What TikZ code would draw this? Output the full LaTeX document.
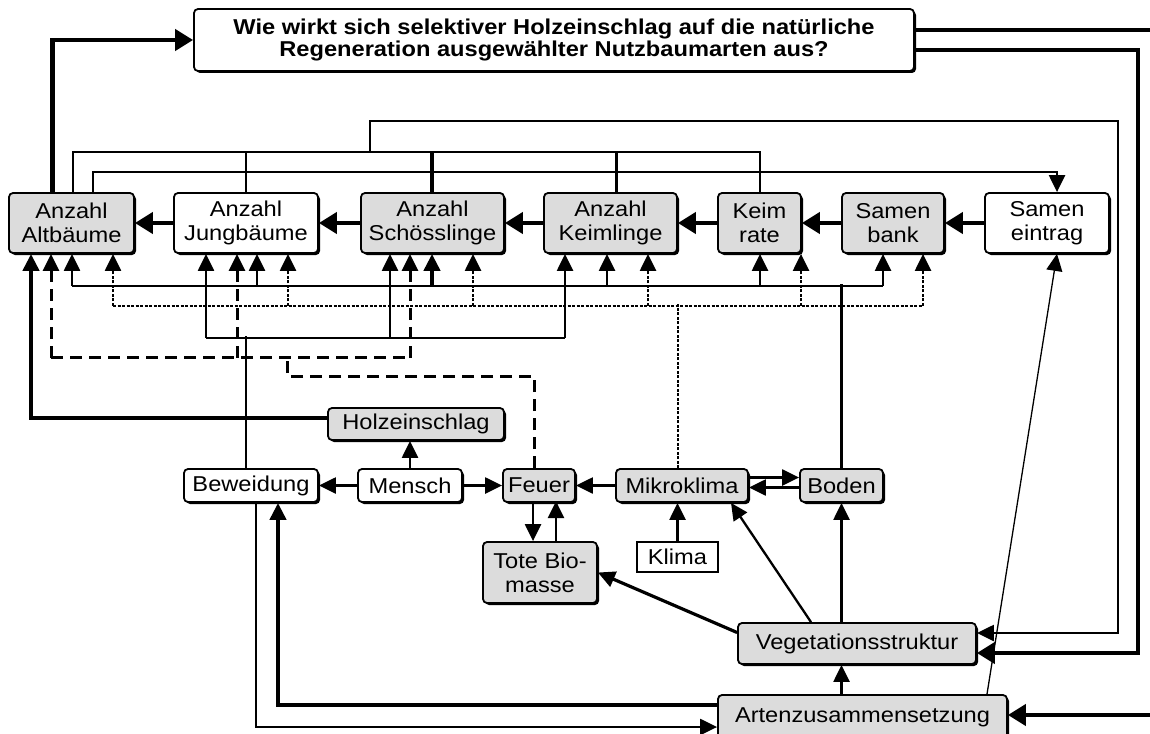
\documentclass[tikz,border=0pt]{standalone}
\usepackage{fontspec}
\setmainfont{Liberation Sans}[FakeStretch=1.1]
\usetikzlibrary{arrows.meta,shadows}
\definecolor{boxgrau}{RGB}{220,220,220}

\tikzset{
	kasten/.style={draw, line width=1.8pt, rounded corners=4pt, fill=boxgrau, align=center, inner sep=0pt,
		font=\fontsize{21.5}{24}\selectfont,
		drop shadow={shadow xshift=2pt, shadow yshift=-2pt, fill=black, opacity=1}},
	weiss/.style={kasten, fill=white},
	reihe/.style={minimum height=60pt},
	mitte/.style={minimum height=33pt},
	klimabox/.style={draw, line width=1.4pt, fill=white, inner sep=0pt, font=\fontsize{21.5}{24}\selectfont},
	ln/.style={line width=2.3pt},
	tk/.style={line width=4.2pt},
	pf/.style={-{Triangle[length=17pt,width=16pt]}},
	pfT/.style={-{Triangle[length=18pt,width=21pt]}},
	gestr/.style={line width=3pt, dash pattern=on 12pt off 7pt},
	punkt/.style={line width=2.3pt, dash pattern=on 3pt off 1.5pt},
}

\begin{document}
\begin{tikzpicture}[x=1pt,y=-1pt]
		%%%%% START %%%%%
		\useasboundingbox (0,0) rectangle (1150,733);
		\clip (0,0) rectangle (1150,733);
		
		\coordinate (randO) at (1150,30);
		\coordinate (rand) at (1150,715);
		\coordinate (rechtsA) at (1118,633);
		\coordinate (rechtsB) at (1138,653);
		
		\node[weiss, minimum width=720pt, minimum height=62pt, font=\bfseries\fontsize{21.5}{22}\selectfont] (frage) at (554,40)
			{Wie wirkt sich selektiver Holzeinschlag auf die natürliche\\Regeneration ausgewählter Nutzbaumarten aus?};
		
		% obere Reihe
		\node[kasten, reihe, minimum width=125pt] (altb) at (71.5,223) {Anzahl\\Altbäume};
		\node[weiss, reihe, minimum width=144pt] (jung) at (246,223) {Anzahl\\Jungbäume};
		\node[kasten, reihe, minimum width=143pt] (schoe) at (432.5,223) {Anzahl\\Schösslinge};
		\node[kasten, reihe, minimum width=133pt] (keiml) at (610.5,223) {Anzahl\\Keimlinge};
		\node[kasten, reihe, minimum width=83pt] (keimr) at (759.5,223) {Keim\\rate};
		\node[kasten, reihe, minimum width=102pt] (sbank) at (893,223) {Samen\\bank};
		\node[weiss, reihe, minimum width=124pt] (seintr) at (1047,223) {Samen\\eintrag};
		
		% Faktoren
		\node[kasten, minimum width=176pt, minimum height=32pt] (holz) at (416,424) {Holzeinschlag};
		\node[weiss, mitte, minimum width=134pt] (bew) at (251,485.5) {Beweidung};
		\node[weiss, mitte, minimum width=104pt] (mensch) at (410,485.5) {Mensch};
		\node[kasten, mitte, minimum width=72pt] (feuer) at (539,485.5) {Feuer};
		\node[kasten, mitte, minimum width=132pt] (mikro) at (682,485.5) {Mikroklima};
		\node[kasten, mitte, minimum width=83pt] (boden) at (841.5,485.5) {Boden};
		\node[klimabox, minimum width=81pt, minimum height=30pt] (klima) at (677.5,557) {Klima};
		\node[kasten, minimum width=114pt, minimum height=61pt] (tote) at (540,572.5) {Tote Bio-\\masse};
		\node[kasten, minimum width=238pt, minimum height=41pt] (veg) at (857,643.5) {Vegetationsstruktur};
		\node[kasten, minimum width=289pt, minimum height=44pt] (arten) at (862.5,717) {Artenzusammensetzung};
		
		% Frage
		\draw[tk,pfT] ([xshift=-19pt]altb.north) |- (frage.west);
		\draw[tk] ([yshift=10pt]frage.east) -- (randO);
		\draw[tk,pfT] ([yshift=-10pt]frage.east) -| (rechtsB) -- ([yshift=-9.5pt]veg.east);
		
		% Verjuengung -> Vegetationsstruktur
		\draw[ln] ([xshift=1.5pt]altb.north) -- ++(0,-40) -| ([xshift=0.5pt]keimr.north);
		\draw[ln] (jung.north) -- ++(0,-40);
		\draw[tk] ([xshift=-0.5pt]schoe.north) -- ++(0,-40);
		\draw[ln] ([xshift=6pt]keiml.north) -- ++(0,-40);
		\draw[ln,pf] ([xshift=-62.5pt]schoe.north) ++(0,-40) -- ++(0,-31) -| (rechtsA) -- ([yshift=10.5pt]veg.east);
		\draw[ln,pf] ([xshift=21.5pt]altb.north) -- ++(0,-20) -| ([xshift=10pt]seintr.north);
		
		\draw[tk,pfT] (jung.west) -- (altb.east);
		\draw[tk,pfT] (schoe.west) -- (jung.east);
		\draw[tk,pfT] (keiml.west) -- (schoe.east);
		\draw[tk,pfT] (keimr.west) -- (keiml.east);
		\draw[tk,pfT] (sbank.west) -- (keimr.east);
		\draw[tk,pfT] (seintr.west) -- (sbank.east);
		
		% Boden
		\draw[ln] (boden.north) -- ++(0,-184);
		\draw[ln] ([xshift=0.5pt,yshift=-32pt]altb.south) -- ([xshift=-10pt,yshift=-32pt]sbank.south);
		\foreach \n/\dx in {altb/0.5, jung/11, keiml/-3.5, keimr/0.5, sbank/-10}
			\draw[ln,pf] ([xshift=\dx pt]\n.south) ++(0,32) -- ++(0,-32);
		\draw[tk,pf] ([xshift=-0.5pt]schoe.south) ++(0,32) -- ++(0,-32);
		
		% Mikroklima
		\draw[punkt] ([xshift=-4pt]mikro.north) -- ++(0,-164);
		\draw[punkt] ([xshift=41.5pt,yshift=-52pt]altb.south) -- ([xshift=30pt,yshift=-52pt]sbank.south);
		\foreach \n/\dx in {altb/41.5, jung/42, schoe/40.5, keiml/37.5, keimr/41.5, sbank/30}
			\draw[punkt,pf] ([xshift=\dx pt]\n.south) ++(0,52) -- ++(0,-52);
		
		% Beweidung
		\draw[ln] ([xshift=-5pt]bew.north) -- ++(0,-132);
		\draw[ln] ([xshift=-40pt,yshift=-84pt]jung.south) -- ([xshift=-45.5pt,yshift=-84pt]keiml.south);
		\foreach \n/\dx in {jung/-40, schoe/-42.5, keiml/-45.5}
			\draw[ln,pf] ([xshift=\dx pt]\n.south) ++(0,84) -- ++(0,-84);
		
		% Feuer
		\draw[gestr] ([xshift=-20.5pt,yshift=-104pt]altb.south) -- ([xshift=-22.5pt,yshift=-104pt]schoe.south);
		\foreach \n/\dx in {altb/-20.5, jung/-9, schoe/-22.5}
			\draw[gestr,pf] ([xshift=\dx pt]\n.south) ++(0,104) -- ++(0,-104);
		\draw[gestr] ([xshift=-5pt]feuer.north) -- ++(0,-92) -| ([xshift=41pt,yshift=-104pt]jung.south);
		
		% Holzeinschlag
		\draw[tk,pf] ([yshift=6pt]holz.west) -| ([xshift=-40.5pt]altb.south);
		
		\draw[ln,pf] (mensch.north) -- (mensch.north |- holz.south);
		\draw[ln,pf] (mensch.west) -- (bew.east);
		\draw[ln,pf] (mensch.east) -- (feuer.west);
		\draw[ln,pf] (mikro.west) -- (feuer.east);
		\draw[ln,pf] ([yshift=8pt]mikro.east) -- ([yshift=8pt]boden.west);
		\draw[ln,pf] ([yshift=-2pt]boden.west) -- ([yshift=-2pt]mikro.east);
		\draw[ln,pf] (klima.north) -- (klima.north |- mikro.south);
		\draw[ln,pf] ([xshift=-7pt]tote.north) ++(0,-40) -- ++(0,40);
		\draw[ln,pf] ([xshift=16pt]tote.north) -- ++(0,-40);
		
		\draw[line width=3.2pt,pf] ([yshift=11pt]veg.west) -- (tote.east);
		\draw[ln,pf] ([xshift=-46pt]veg.north) -- ([xshift=49pt]mikro.south);
		\draw[ln,pf] (veg.north -| boden.south) -- (boden.south);
		\draw[ln,pf] (arten.north -| boden.south) -- (veg.south -| boden.south);
		\draw[line width=1.3pt,pf] ([xshift=124.5pt]arten.north) -- ([xshift=10pt]seintr.south);
		\draw[tk,pf] ([yshift=12pt]arten.west) -| ([xshift=27pt]bew.south);
		\draw[ln,pf] ([xshift=5pt]bew.south) |- ([yshift=-10pt]arten.west);
		\draw[tk,pfT] (rand) -- (arten.east |- rand);
		
		%%%%% END %%%%%
\end{tikzpicture}
\end{document}
